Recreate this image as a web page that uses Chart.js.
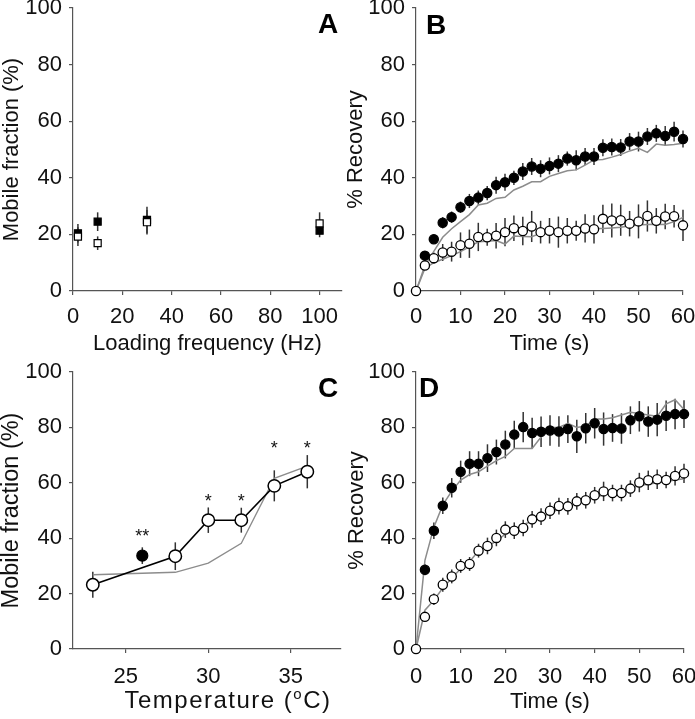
<!DOCTYPE html>
<html>
<head>
<meta charset="utf-8">
<script src="https://cdn.jsdelivr.net/npm/chart.js@4.4.1/dist/chart.umd.min.js"></script>
<style>
  html, body { margin: 0; padding: 0; background: #fff; }
  #wrap { position: relative; width: 695px; height: 719px; overflow: hidden; }
  canvas { position: absolute; }
</style>
</head>
<body>
<div id="wrap">
  <canvas id="chartA" width="348" height="355" style="left:0;top:0"></canvas>
  <canvas id="chartB" width="350" height="355" style="left:345px;top:0"></canvas>
  <canvas id="chartC" width="348" height="364" style="left:0;top:355px"></canvas>
  <canvas id="chartD" width="350" height="364" style="left:345px;top:355px"></canvas>
</div>
<script>
// --- datos ---
const FREQ_HZ = [2, 10, 30, 100];
const A_FILLED = [20.4, 24.5, 25.1, 21.3];
const A_FILLED_ERR = [3.3, 3.3, 4.7, 2.3];
const A_OPEN = [19.2, 16.9, 24.3, 23.9];
const A_OPEN_ERR = [3.3, 2.4, 4.3, 3.9];

const TIME_S = [0, 2, 4, 6, 8, 10, 12, 14, 16, 18, 20, 22, 24, 26, 28, 30,
                32, 34, 36, 38, 40, 42, 44, 46, 48, 50, 52, 54, 56, 58, 60];

const B_FILLED = [null, 12.5, 18.3, 24.1, 26.1, 29.6, 31.8, 33.0, 34.6, 37.4, 38.4, 40.0, 42.2, 44.0, 43.2, 44.2,
                  45.0, 46.8, 46.2, 47.5, 47.5, 50.6, 50.9, 50.7, 52.8, 52.8, 54.6, 55.7, 54.8, 56.3, 53.7];
const B_FILLED_ERR = [0, 1.5, 1.5, 2, 2, 2, 2.5, 2.5, 2.5, 3, 3, 2.5, 3, 3, 3, 3,
                      3, 2.5, 3.5, 3, 3, 3, 3, 3, 3, 3.5, 3, 3, 3.5, 3.5, 3];
const B_OPEN = [0, 9.0, 11.6, 13.6, 13.9, 16.2, 16.7, 19.1, 19.0, 19.5, 20.8, 22.2, 21.2, 22.8, 20.8, 21.3,
                20.8, 21.3, 21.3, 22.1, 21.8, 25.5, 24.9, 25.0, 23.8, 24.6, 26.5, 24.8, 26.3, 26.4, 23.2];
const B_OPEN_ERR = [0, 1.5, 2, 3, 3.5, 4.5, 5, 5, 3, 4.5, 5, 4.5, 5, 5.5, 4, 4.5,
                    5.5, 4.5, 3.5, 5, 5, 5, 6, 5.5, 4.5, 6, 5.5, 4.5, 4.5, 4, 5.5];
const B_GRAY_UPPER = [0, 9, 14, 19, 22, 24.5, 27, 30.4, 31, 32.7, 33.1, 35.7, 37, 38.6, 38.6, 40.5,
                      41.5, 42.5, 42.8, 44.5, 46.3, 46.5, 47.3, 48.2, 49.5, 50.4, 49, 51.9, 51.5, 51.8, 52.2];
const B_GRAY_LOWER = [0, 8, 10, 11.2, 12.5, 13.9, 15.6, 17.4, 17.6, 17.8, 16.6, 19.4, 19.3, 19.2, 20.4, 20.2,
                      20.5, 20.6, 21.0, 21.4, 22.1, 22.1, 22.3, 22.5, 23, 23.3, 23.5, 23.6, 23.5, 24.5, 26];

const TEMP_C = [23, 28, 30, 32, 34, 36];
const C_OPEN = [23.2, 33.5, 46.5, 46.5, 58.9, 64.0];
const C_OPEN_ERR = [4.7, 5, 4.6, 4.5, 5.6, 6];
const C_GRAY = [26.8, 27.7, 31.0, 38.2, 61.6, 66.0];
const C_FILLED_TEMP = [26];
const C_FILLED = [33.7];
const C_FILLED_ERR = [3];
const C_STARS_TEMP = [26, 30, 32, 34, 36];
const C_STARS_Y = [42.4, 55, 55, 74, 74];
const C_STARS = ['**', '*', '*', '*', '*'];

const D_FILLED = [null, 28.6, 42.7, 51.7, 58.2, 64.0, 66.9, 66.9, 68.9, 71.1, 73.8, 77.4, 80.1, 78.0, 78.4, 78.9,
                  78.5, 79.4, 76.8, 79.7, 81.5, 79.4, 79.8, 79.6, 82.6, 84.0, 82.1, 82.8, 84.2, 84.8, 84.8];
const D_FILLED_ERR = [0, 2, 3, 3, 3.5, 4, 4.5, 4.5, 5, 4.5, 5, 5, 5.5, 5.5, 5.5, 5.5,
                      5.5, 5, 6, 5.5, 5.5, 6, 5, 5.5, 5, 5.5, 5.5, 6, 5.5, 5.5, 5];
const D_OPEN = [0, 11.6, 18.0, 23.2, 26.2, 30.0, 30.7, 35.5, 37.2, 40.1, 43.1, 42.7, 43.7, 46.8, 47.8, 49.9,
                51.6, 51.5, 53.3, 53.7, 55.5, 56.9, 56.3, 56.3, 57.9, 60.1, 60.9, 61.3, 61.0, 62.5, 63.4];
const D_OPEN_ERR = [0, 1.5, 2, 2.5, 2.5, 2.5, 2.5, 2.5, 3, 3, 3, 3, 3, 3, 3, 3,
                    3, 3, 3, 3, 3, 3.5, 3, 3, 3, 3.5, 3.5, 3.5, 3, 3.5, 3.5];
const D_GRAY_UPPER = [0, 32, 44, 52, 57, 61, 63, 64, 66, 68, 69.5, 72.4, 72.4, 72.4, 76.5, 80,
                      80, 81.5, 80, 80.5, 83, 83, 83.5, 84.5, 85.5, 85, 84.5, 84, 88.5, 90, 86.5];
const D_GRAY_LOWER = [0, 14, 17.6, 22, 25.5, 29, 31.5, 35.5, 37, 39, 41.5, 43, 45, 46, 47.5, 49,
                      50.5, 51.5, 52.5, 54, 55, 55.5, 56.5, 57, 58, 59, 59.5, 60, 60.5, 61, 61.5];

// --- estilos comunes ---
const FONT = "'Liberation Sans', Arial, sans-serif";
Chart.defaults.font.family = FONT;
Chart.defaults.color = '#111';
const AXIS_COLOR = '#555';
const GRAY_LINE = '#8c8c8c';

const pts = (xs, ys) => xs.map((x, i) => ({ x: x, y: ys[i] }));

function yAxis(title, width, titleSize, titlePad) {
    return {
        type: 'linear', min: 0, max: 100,
        ticks: { stepSize: 20, font: { size: 22 }, padding: 7, color: '#111' },
        grid: { drawOnChartArea: false, tickLength: 4, color: AXIS_COLOR, lineWidth: 1.2 },
        border: { color: AXIS_COLOR, width: 1.2 },
        title: { display: true, text: title, color: '#111',
                 font: { size: titleSize, lineHeight: 1 }, padding: { top: titlePad, bottom: 0 } },
        afterFit: s => { s.width = width; s.paddingTop = 0; s.paddingBottom = 0; }
    };
}

function xAxis(min, max, step, title, height, tickPad, titlePad) {
    return {
        type: 'linear', min: min, max: max,
        ticks: { stepSize: step, font: { size: 22 }, padding: tickPad, color: '#111', maxRotation: 0, autoSkip: false },
        // solo los múltiplos del paso, aunque queden cerca de los extremos
        afterBuildTicks: ax => {
            const t = [];
            for (let v = Math.ceil(min / step - 1e-9) * step; v <= max + 1e-9; v += step) t.push({ value: v });
            ax.ticks = t;
        },
        grid: { drawOnChartArea: false, tickLength: 4, color: AXIS_COLOR, lineWidth: 1.2 },
        border: { color: AXIS_COLOR, width: 1.2 },
        title: { display: !!title, text: title || '', color: '#111',
                 font: { size: 22, lineHeight: 1 }, padding: { top: 0, bottom: titlePad } },
        afterFit: s => { s.height = height; s.paddingLeft = 0; s.paddingRight = 0; }
    };
}

function markers(data, errs, filled, style, radius, bw) {
    return {
        data: data, errs: errs, showLine: false, clip: false,
        pointStyle: style, pointRadius: radius, pointHoverRadius: radius,
        pointBackgroundColor: filled ? '#000' : '#fff',
        pointBorderColor: '#000', pointBorderWidth: bw
    };
}

function grayLine(data, width) {
    return {
        data: data, showLine: true, clip: false, pointRadius: 0,
        borderColor: GRAY_LINE, borderWidth: width || 1.5, tension: 0
    };
}

// barras de error debajo de los marcadores
const errorBars = {
    id: 'errorBars',
    beforeDatasetsDraw(chart) {
        const ctx = chart.ctx;
        const xs = chart.scales.x, ys = chart.scales.y;
        ctx.save();
        ctx.strokeStyle = '#333';
        ctx.lineWidth = 1.5;
        chart.data.datasets.forEach(ds => {
            if (!ds.errs) return;
            ds.data.forEach((p, i) => {
                const e = ds.errs[i];
                if (p.y === null || !e) return;
                const px = xs.getPixelForValue(p.x);
                ctx.beginPath();
                ctx.moveTo(px, ys.getPixelForValue(p.y - e));
                ctx.lineTo(px, ys.getPixelForValue(p.y + e));
                ctx.stroke();
            });
        });
        ctx.restore();
    }
};

function panelLetter(letter, x, y) {
    return {
        id: 'letter' + letter,
        afterDraw(chart) {
            const ctx = chart.ctx;
            ctx.save();
            ctx.font = 'bold 28px ' + FONT;
            ctx.fillStyle = '#000';
            ctx.textAlign = 'center';
            ctx.textBaseline = 'alphabetic';
            ctx.fillText(letter, x, y);
            ctx.restore();
        }
    };
}

const baseOptions = (padding, scales) => ({
    responsive: false,
    animation: false,
    devicePixelRatio: 1,
    layout: { padding: padding },
    plugins: { legend: { display: false }, tooltip: { enabled: false } },
    scales: scales
});

// --- A ---
new Chart(document.getElementById('chartA'), {
    type: 'scatter',
    data: { datasets: [
        markers(pts(FREQ_HZ, A_OPEN), A_OPEN_ERR, false, 'rect', 5, 1.2),
        markers(pts(FREQ_HZ, A_FILLED), A_FILLED_ERR, true, 'rect', 5, 1.2)
    ] },
    options: baseOptions({ left: 0, top: 8, right: 1, bottom: 0 }, {
        x: xAxis(0, 109, 20, 'Loading frequency (Hz)', 64, 9, 0),
        y: yAxis('Mobile fraction (%)', 73, 22, 1)
    }),
    plugins: [errorBars, panelLetter('A', 328, 33)]
});

// --- B ---
new Chart(document.getElementById('chartB'), {
    type: 'scatter',
    data: { datasets: [
        markers(pts(TIME_S, B_OPEN), B_OPEN_ERR, false, 'circle', 4.6, 1.3),
        markers(pts(TIME_S, B_FILLED), B_FILLED_ERR, true, 'circle', 4.6, 1.3),
        grayLine(pts(TIME_S, B_GRAY_UPPER)),
        grayLine(pts(TIME_S, B_GRAY_LOWER))
    ] },
    options: baseOptions({ left: 0, top: 8, right: 12, bottom: 0 }, {
        x: xAxis(0, 60, 10, 'Time (s)', 64, 9, 0),
        y: yAxis('% Recovery', 71, 22, 0)
    }),
    plugins: [errorBars, panelLetter('B', 91, 34)]
});

// --- C ---
const cExtras = {
    id: 'cExtras',
    afterDraw(chart) {
        const ctx = chart.ctx;
        const xs = chart.scales.x, ys = chart.scales.y;
        ctx.save();
        ctx.fillStyle = '#111';
        ctx.textAlign = 'center';
        ctx.textBaseline = 'alphabetic';
        ctx.font = '18px ' + FONT;
        C_STARS.forEach((s, i) => {
            ctx.fillText(s, xs.getPixelForValue(C_STARS_TEMP[i]), ys.getPixelForValue(C_STARS_Y[i]) + 10);
        });
        // título del eje x con superíndice
        ctx.textAlign = 'left';
        ctx.letterSpacing = '1.5px';
        const big = '24px ' + FONT, small = '15px ' + FONT;
        const p1 = 'Temperature (', p2 = 'o', p3 = 'C)';
        ctx.font = big; const w1 = ctx.measureText(p1).width, w3 = ctx.measureText(p3).width;
        ctx.font = small; const w2 = ctx.measureText(p2).width;
        let x = 228 - (w1 + w2 + w3) / 2;
        const base = 353;
        ctx.font = big; ctx.fillText(p1, x, base); x += w1;
        ctx.font = small; ctx.fillText(p2, x, base - 9); x += w2;
        ctx.font = big; ctx.fillText(p3, x, base);
        ctx.restore();
    }
};

new Chart(document.getElementById('chartC'), {
    type: 'scatter',
    data: { datasets: [
        Object.assign(markers(pts(TEMP_C, C_OPEN), C_OPEN_ERR, false, 'circle', 6.2, 1.5),
                      { showLine: true, borderColor: '#000', borderWidth: 1.6 }),
        markers(pts(C_FILLED_TEMP, C_FILLED), C_FILLED_ERR, true, 'circle', 5.5, 1.2),
        grayLine(pts(TEMP_C, C_GRAY), 1.3)
    ] },
    options: baseOptions({ left: 0, top: 17, right: 1, bottom: 0 }, {
        x: xAxis(21.8, 38, 5, '', 70, 11, 0),
        y: yAxis('Mobile fraction (%)', 73, 23.5, 0)
    }),
    plugins: [errorBars, cExtras, panelLetter('C', 328, 42)]
});

// --- D ---
new Chart(document.getElementById('chartD'), {
    type: 'scatter',
    data: { datasets: [
        markers(pts(TIME_S, D_OPEN), D_OPEN_ERR, false, 'circle', 4.6, 1.3),
        markers(pts(TIME_S, D_FILLED), D_FILLED_ERR, true, 'circle', 4.6, 1.3),
        grayLine(pts(TIME_S, D_GRAY_UPPER)),
        grayLine(pts(TIME_S, D_GRAY_LOWER))
    ] },
    options: baseOptions({ left: 0, top: 17, right: 11, bottom: 0 }, {
        x: xAxis(0, 60, 10, 'Time (s)', 70, 11, 6),
        y: yAxis('% Recovery', 71, 22, 1)
    }),
    plugins: [errorBars, panelLetter('D', 84, 42)]
});
</script>
</body>
</html>
